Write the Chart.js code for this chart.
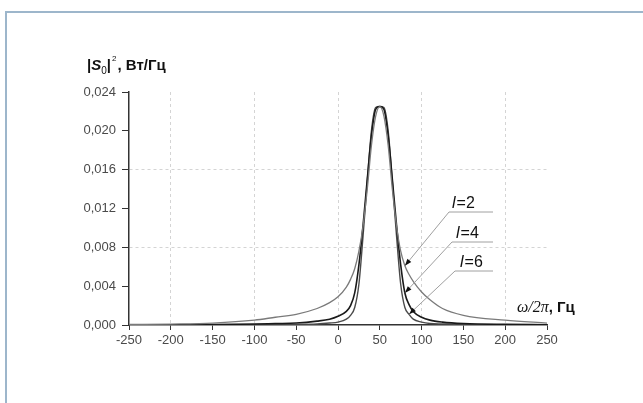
<!DOCTYPE html>
<html>
<head>
<meta charset="utf-8">
<script src="https://cdn.jsdelivr.net/npm/chart.js@4.4.0/dist/chart.umd.min.js"></script>
<style>
  html, body { margin: 0; padding: 0; background: #fff; }
  canvas { display: block; }
</style>
</head>
<body>
<canvas id="spectrum" width="643" height="403"></canvas>
<script>
// Частотная сетка, Гц
const freqHz = [-250, -200, -150, -100, -75, -50, -25, -10, 0, 10, 15, 20, 25, 30, 35, 40, 45, 50,
                55, 60, 65, 70, 75, 80, 85, 90, 100, 110, 125, 150, 200, 250];

// |S0|^2, Вт/Гц для разных l
const powerL2 = [0.00005, 0.0001, 0.0002, 0.0005, 0.0008, 0.0011, 0.0017, 0.0023, 0.0029, 0.0039, 0.0047, 0.0058,
                 0.0076, 0.0102, 0.0140, 0.0185, 0.0215, 0.0225,
                 0.0215, 0.0185, 0.0140, 0.0102, 0.0076, 0.0061, 0.0052, 0.0045, 0.0034, 0.0026, 0.0017,
                 0.0010, 0.0005, 0.0002];
const powerL4 = [0.00002, 0.00003, 0.00005, 0.0001, 0.00015, 0.0002, 0.0004, 0.0006, 0.0009, 0.0014, 0.002, 0.0033,
                 0.0062, 0.0103, 0.0150, 0.0195, 0.0222, 0.0225,
                 0.0222, 0.0195, 0.0150, 0.0103, 0.0062, 0.0033, 0.0021, 0.0014, 0.0008, 0.0005, 0.0003,
                 0.00015, 0.00006, 0.00003];
const powerL6 = [0.00001, 0.00002, 0.00002, 0.00003, 0.00004, 0.00005, 0.0001, 0.0002, 0.0003, 0.0006, 0.001, 0.0018,
                 0.0042, 0.0092, 0.0148, 0.0200, 0.0224, 0.0225,
                 0.0224, 0.0200, 0.0148, 0.0092, 0.0042, 0.0018, 0.0011, 0.0006, 0.0003, 0.00015, 0.0001,
                 0.00005, 0.00002, 0.00001];

const curveNames = ['2', '4', '6'];
const xTicks = [-250, -200, -150, -100, -50, 0, 50, 100, 150, 200, 250];
const yTicks = [0, 0.004, 0.008, 0.012, 0.016, 0.020, 0.024];
const xGrid = [-200, -100, 0, 100, 200];
const yGrid = [0.008, 0.016];
// точки, на которые указывают стрелки подписей
const arrowFreq = [80, 80, 85];

const SANS = '"Liberation Sans", Arial, sans-serif';
const SERIF = '"Liberation Serif", "Times New Roman", serif';

function toPoints(vals) {
    return freqHz.map((f, i) => ({ x: f, y: vals[i] }));
}

function near(v, list) {
    return list.some(g => Math.abs(g - v) < 1e-9);
}

// текст из нескольких кусков с разными шрифтами
function drawRich(ctx, parts, x, y) {
    parts.forEach(p => {
        ctx.font = p.font;
        ctx.fillText(p.text, x, y + (p.dy || 0));
        x += ctx.measureText(p.text).width + (p.gap || 0);
    });
}

const decorPlugin = {
    id: 'decor',
    beforeDraw(chart) {
        const ctx = chart.ctx;
        ctx.save();
        ctx.fillStyle = '#fff';
        ctx.fillRect(0, 0, chart.width, chart.height);
        // рамка
        ctx.strokeStyle = '#9db6cb';
        ctx.lineWidth = 2;
        ctx.beginPath();
        ctx.moveTo(643, 12);
        ctx.lineTo(6, 12);
        ctx.lineTo(6, 403);
        ctx.stroke();
        ctx.restore();
    },
    afterDraw(chart) {
        const ctx = chart.ctx;
        const xs = chart.scales.x, ys = chart.scales.y;
        ctx.save();
        ctx.fillStyle = '#111';
        ctx.textBaseline = 'alphabetic';
        ctx.textAlign = 'left';

        // подпись оси Y
        drawRich(ctx, [
            { text: '|', font: 'bold 15px ' + SANS },
            { text: 'S', font: 'bold italic 15px ' + SANS },
            { text: '0', font: '10px ' + SANS, dy: 4 },
            { text: '|', font: 'bold 15px ' + SANS, gap: 1 },
            { text: '2', font: '8px ' + SANS, dy: -9, gap: 1 },
            { text: ', Вт/Гц', font: 'bold 15px ' + SANS }
        ], 87, 70);

        // подпись оси X
        drawRich(ctx, [
            { text: 'ω/2π', font: 'italic 16px ' + SERIF },
            { text: ', Гц', font: 'bold 15px ' + SANS }
        ], 517, 312);

        // подписи кривых со стрелками
        const series = [powerL2, powerL4, powerL6];
        const labelPos = [[452, 208, 449], [456, 238, 452], [460, 267, 455]];
        series.forEach((vals, k) => {
            const idx = freqHz.indexOf(arrowFreq[k]);
            const tx = xs.getPixelForValue(freqHz[idx]);
            const ty = ys.getPixelForValue(vals[idx]);
            const [lx, ly, ux] = labelPos[k];
            const uy = ly + 4;

            ctx.strokeStyle = '#a0a0a0';
            ctx.lineWidth = 1;
            ctx.beginPath();
            ctx.moveTo(493, uy);
            ctx.lineTo(ux, uy);
            ctx.lineTo(tx, ty);
            ctx.stroke();

            // наконечник
            const ang = Math.atan2(ty - uy, tx - ux);
            ctx.fillStyle = '#111';
            ctx.beginPath();
            ctx.moveTo(tx, ty);
            ctx.lineTo(tx - 7 * Math.cos(ang) + 2.5 * Math.sin(ang), ty - 7 * Math.sin(ang) - 2.5 * Math.cos(ang));
            ctx.lineTo(tx - 7 * Math.cos(ang) - 2.5 * Math.sin(ang), ty - 7 * Math.sin(ang) + 2.5 * Math.cos(ang));
            ctx.closePath();
            ctx.fill();

            drawRich(ctx, [
                { text: 'l', font: 'italic 16px ' + SANS, gap: 1 },
                { text: '=' + curveNames[k], font: '16px ' + SANS }
            ], lx, ly);
        });
        ctx.restore();
    }
};

new Chart(document.getElementById('spectrum'), {
    type: 'line',
    data: {
        datasets: [
            { label: 'l=2', data: toPoints(powerL2), borderColor: '#7a7a7a', borderWidth: 1.3 },
            { label: 'l=4', data: toPoints(powerL4), borderColor: '#1a1a1a', borderWidth: 1.6 },
            { label: 'l=6', data: toPoints(powerL6), borderColor: '#4a4a4a', borderWidth: 1.4 }
        ]
    },
    options: {
        responsive: false,
        animation: false,
        devicePixelRatio: 1,
        layout: { padding: { left: 0, right: 96, top: 92, bottom: 40 } },
        elements: {
            point: { radius: 0 },
            line: { cubicInterpolationMode: 'monotone', fill: false }
        },
        plugins: { legend: { display: false }, tooltip: { enabled: false } },
        scales: {
            x: {
                type: 'linear',
                min: -250,
                max: 250,
                afterBuildTicks: s => { s.ticks = xTicks.map(v => ({ value: v })); },
                afterFit: s => { s.height = 38; },
                ticks: {
                    color: '#4a4a4a',
                    font: { family: SANS, size: 13 },
                    padding: 3,
                    maxRotation: 0,
                    callback: v => String(v)
                },
                grid: {
                    color: c => near(c.tick.value, xGrid) ? '#d4d4d4' : 'rgba(0,0,0,0)',
                    tickColor: '#333',
                    tickLength: 5,
                    lineWidth: 1
                },
                border: { color: '#333', width: 1.5, dash: [3, 3] }
            },
            y: {
                type: 'linear',
                min: 0,
                max: 0.024,
                afterBuildTicks: s => { s.ticks = yTicks.map(v => ({ value: v })); },
                afterFit: s => { s.width = 129; },
                ticks: {
                    color: '#4a4a4a',
                    font: { family: SANS, size: 13 },
                    padding: 6,
                    callback: v => v.toFixed(3).replace('.', ',')
                },
                grid: {
                    color: c => near(c.tick.value, yGrid) ? '#d4d4d4' : 'rgba(0,0,0,0)',
                    tickColor: '#333',
                    tickLength: 7,
                    lineWidth: 1
                },
                border: { color: '#333', width: 1.5, dash: [3, 3] }
            }
        }
    },
    plugins: [decorPlugin]
});
</script>
</body>
</html>
